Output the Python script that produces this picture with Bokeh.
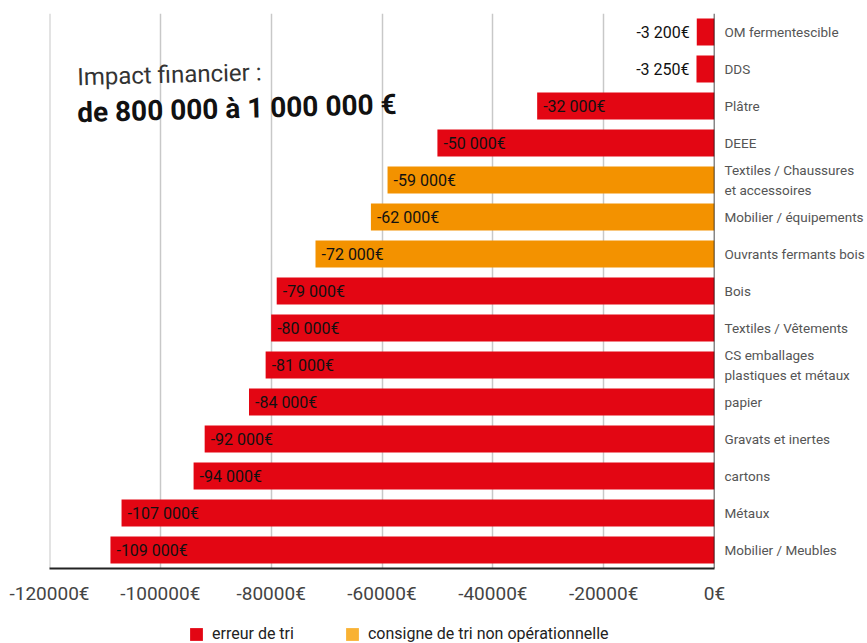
from bokeh.plotting import figure
from bokeh.layouts import column
from bokeh.models import ColumnDataSource, FixedTicker, Range1d, FactorRange, Span, Label, Legend, LegendItem
from bokeh.core.properties import value
from bokeh.embed import file_html
from bokeh.resources import INLINE

# ---- data (top to bottom) ----
categories = [
    "OM fermentescible", "DDS", "Plâtre", "DEEE",
    "Textiles / Chaussures\net accessoires", "Mobilier / équipements",
    "Ouvrants fermants bois", "Bois", "Textiles / Vêtements",
    "CS emballages\nplastiques et métaux", "papier", "Gravats et inertes",
    "cartons", "Métaux", "Mobilier / Meubles",
]
values = [-3200, -3250, -32000, -50000, -59000, -62000, -72000, -79000,
          -80000, -81000, -84000, -92000, -94000, -107000, -109000]
series = ["erreur de tri", "erreur de tri", "erreur de tri", "erreur de tri",
          "consigne de tri non opérationnelle", "consigne de tri non opérationnelle",
          "consigne de tri non opérationnelle", "erreur de tri", "erreur de tri",
          "erreur de tri", "erreur de tri", "erreur de tri", "erreur de tri",
          "erreur de tri", "erreur de tri"]
series_names = ["erreur de tri", "consigne de tri non opérationnelle"]
tick_values = [-120000, -100000, -80000, -60000, -40000, -20000, 0]
tick_labels = ["-120000€", "-100000€", "-80000€", "-60000€", "-40000€", "-20000€", "0€"]
title_line1 = "Impact financier :"
title_line2 = "de 800 000 à 1 000 000 €"

# ---- styles ----
bar_colors = {"erreur de tri": "#E30613", "consigne de tri non opérationnelle": "#F39200"}
legend_colors = {"erreur de tri": "#E30613", "consigne de tri non opérationnelle": "#F9B233"}

labels = [f"{v:,}".replace(",", " ") + "€" for v in values]
outside = [abs(v) < 20000 for v in values]
src = ColumnDataSource(dict(
    cat=categories, val=values, zero=[0] * len(values),
    color=[bar_colors[s] for s in series],
    label=labels,
    align=["right" if o else "left" for o in outside],
    xoff=[-7 if o else 6 for o in outside],
))

factors = list(reversed(categories))
p = figure(width=867, height=613, output_backend="svg", toolbar_location=None,
           x_range=Range1d(-120000, 0), y_range=FactorRange(*factors, range_padding=0),
           y_axis_location="right", min_border_left=49, min_border_top=13,
           min_border_right=152, min_border_bottom=45)
p.outline_line_color = None
p.background_fill_color = "white"
p.border_fill_color = "white"

# left edge gridline (range start)
p.add_layout(Span(location=tick_values[0], dimension="height", line_color="#c8c8c8",
                  line_width=2, level="underlay"))

p.hbar(y="cat", left="val", right="zero", height=0.73, fill_color="color",
       line_color=None, source=src)

p.text(x="val", y="cat", text="label", text_align="align", x_offset="xoff",
       text_baseline="middle", text_font_size="16px", text_font=value("Roboto"),
       text_color="#111111", source=src)

# zero line
p.add_layout(Span(location=0, dimension="height", line_color="#111111", line_width=1.5))

# grid
p.ygrid.grid_line_color = None
p.xgrid.ticker = FixedTicker(ticks=tick_values)
p.xgrid.grid_line_color = "#c8c8c8"
p.xgrid.grid_line_width = 1.5

# x axis
xa = p.xaxis[0]
xa.ticker = FixedTicker(ticks=tick_values)
xa.major_label_overrides = {v: l for v, l in zip(tick_values, tick_labels)}
xa.axis_line_color = "#222222"
xa.axis_line_width = 2
xa.major_tick_out = 0
xa.major_tick_in = 0
xa.minor_tick_out = 0
xa.minor_tick_in = 0
xa.major_label_standoff = 13
xa.major_label_text_font = "Roboto"
xa.major_label_text_font_size = "19px"
xa.major_label_text_color = "#444444"

# right category axis
ya = p.yaxis[0]
ya.axis_line_color = None
ya.major_tick_line_color = None
ya.minor_tick_line_color = None
ya.major_tick_out = 0
ya.major_label_standoff = 10
ya.axis_label_standoff = 0
ya.major_label_text_font = "Roboto"
ya.major_label_text_font_size = "13.5px"
ya.major_label_text_color = "#555555"
ya.major_label_text_line_height = 1.25

# title
p.add_layout(Label(x=-115000, y=13.28, text=title_line1, angle=0.026,
                   text_baseline="alphabetic", text_font="Roboto",
                   text_font_size="24px", text_color="#333333"))
p.add_layout(Label(x=-115000, y=12.32, text=title_line2, angle=0.026,
                   text_baseline="alphabetic", text_font="Roboto",
                   text_font_size="28px", text_font_style="bold", text_color="#111111"))

# legend strip (separate figure below the chart)
lg = figure(width=867, height=30, output_backend="svg", toolbar_location=None,
            x_range=Range1d(0, 1), y_range=Range1d(0, 1),
            x_axis_location=None, y_axis_location=None,
            min_border=0, min_border_left=0, min_border_right=0,
            min_border_top=0, min_border_bottom=0)
lg.outline_line_color = None
lg.grid.visible = False
items = []
for name in series_names:
    r = lg.hbar(y=[0], left=[0], right=[0], height=0.5,
                fill_color=legend_colors[name], line_color=None)
    items.append(LegendItem(label=name, renderers=[r]))
legend = Legend(items=items, orientation="horizontal", location=(139, 0),
                glyph_width=16, glyph_height=16, label_standoff=8, spacing=50,
                padding=0, margin=0, border_line_color=None, background_fill_alpha=0,
                label_text_font="Roboto", label_height=16,
                label_text_font_size="16px", label_text_color="#222222")
lg.add_layout(legend)

layout = column(p, lg, spacing=0)
open("out.html", "w").write(file_html(layout, INLINE))
